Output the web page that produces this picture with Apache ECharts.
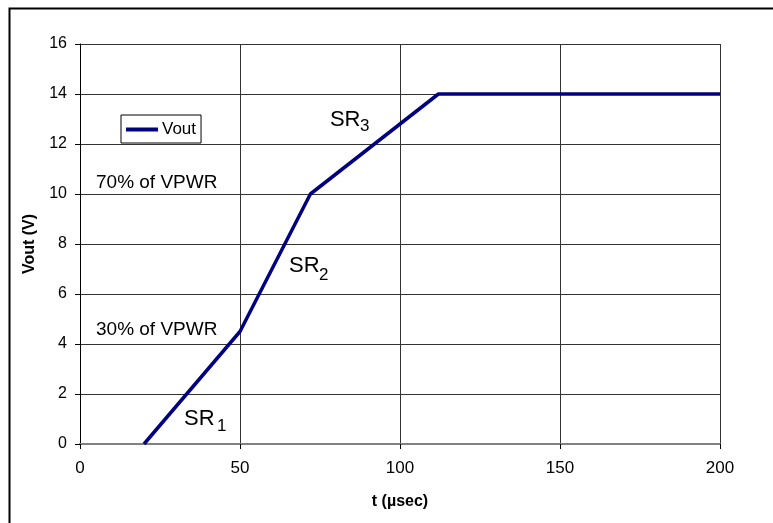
<!DOCTYPE html>
<html>
<head>
<meta charset="utf-8">
<script src="https://cdn.jsdelivr.net/npm/echarts@6/dist/echarts.min.js"></script>
<style>html,body{margin:0;padding:0;background:#fff}#c{width:773px;height:523px}</style>
</head>
<body>
<div id="c"></div>
<script>
var timeUs = [20, 50, 72, 112, 200];
var vout = [0, 4.5, 10, 14, 14];
var xTicks = [0, 50, 100, 150, 200];
var yTicks = [0, 2, 4, 6, 8, 10, 12, 14, 16];

var chart = echarts.init(document.getElementById('c'), null, {renderer: 'canvas'});
var font = '"Liberation Sans", Arial, sans-serif';

var option = {
  animation: false,
  backgroundColor: '#fff',
  grid: {left: 80, right: 53, top: 44, bottom: 79, containLabel: false},
  legend: {
    left: 121, top: 115,
    orient: 'vertical',
    data: [{name: 'Vout', icon: 'rect'}],
    itemWidth: 32, itemHeight: 4, itemGap: 0,
    padding: [6, 5, 5, 5],
    borderColor: '#000', borderWidth: 1, backgroundColor: '#fff',
    textStyle: {fontFamily: font, fontSize: 17, color: '#000', padding: [0, 0, 0, -1]}
  },
  xAxis: {
    type: 'value', min: xTicks[0], max: xTicks[xTicks.length - 1], interval: 50,
    name: 't (µsec)', nameLocation: 'middle', nameGap: 50,
    nameTextStyle: {fontFamily: font, fontSize: 16, fontWeight: 'bold', color: '#000'},
    axisLine: {show: true, onZero: false, lineStyle: {color: '#808080', width: 2}},
    axisTick: {show: true, length: 5, lineStyle: {color: '#000'}},
    axisLabel: {fontFamily: font, fontSize: 17, color: '#000', margin: 16},
    splitLine: {show: true, lineStyle: {color: '#333', width: 1}}
  },
  yAxis: {
    type: 'value', min: yTicks[0], max: yTicks[yTicks.length - 1], interval: 2,
    name: 'Vout (V)', nameLocation: 'middle', nameGap: 42,
    nameTextStyle: {fontFamily: font, fontSize: 16, fontWeight: 'bold', color: '#000'},
    axisLine: {show: true, lineStyle: {color: '#000', width: 1}},
    axisTick: {show: true, length: 5, lineStyle: {color: '#000'}},
    axisLabel: {fontFamily: font, fontSize: 16, color: '#000', margin: 13},
    splitLine: {show: true, lineStyle: {color: '#333', width: 1}}
  },
  series: [{
    name: 'Vout', type: 'line',
    data: timeUs.map(function (t, i) { return [t, vout[i]]; }),
    showSymbol: false, symbol: 'none',
    lineStyle: {color: '#000080', width: 3.5},
    itemStyle: {color: '#000080'},
    z: 5
  }]
};
chart.setOption(option);

var notes = [
  {t: '70% of VPWR', x: 5, y: 10.44, size: 19},
  {t: '30% of VPWR', x: 5, y: 4.56, size: 19},
  {t: 'SR', x: 32.5, y: 1.0, size: 22},
  {t: '1', x: 42.8, y: 0.70, size: 17},
  {t: 'SR', x: 65.3, y: 7.12, size: 22},
  {t: '2', x: 74.7, y: 6.76, size: 17},
  {t: 'SR', x: 78.1, y: 12.98, size: 22},
  {t: '3', x: 87.5, y: 12.72, size: 17}
];
var g = [{
  type: 'rect', left: 7, top: 6, z: 100, silent: true,
  shape: {x: 0, y: 0, width: 820, height: 600},
  style: {fill: null, stroke: '#000', lineWidth: 2}
}];
notes.forEach(function (n) {
  var p = chart.convertToPixel({gridIndex: 0}, [n.x, n.y]);
  g.push({
    type: 'text', x: p[0], y: p[1], z: 50,
    style: {text: n.t, fontFamily: font, fontSize: n.size, fill: '#000', align: 'left', verticalAlign: 'middle'}
  });
});
chart.setOption({graphic: g});
</script>
</body>
</html>
